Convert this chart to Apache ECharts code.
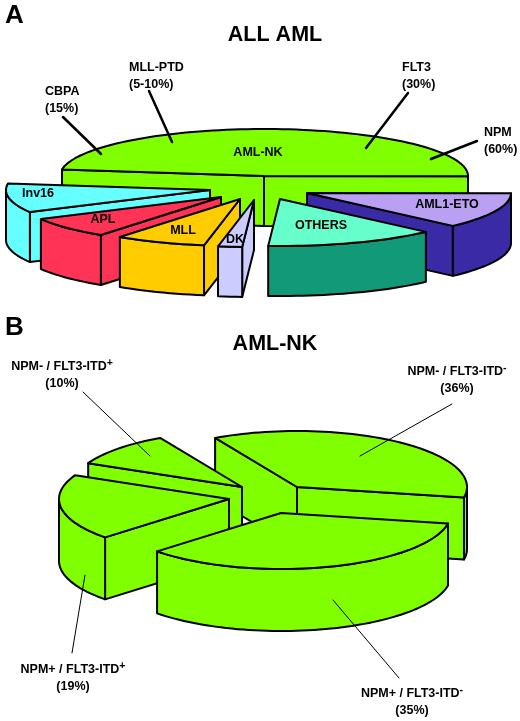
<!DOCTYPE html>
<html><head><meta charset="utf-8">
<style>html,body{margin:0;padding:0;background:#fff}#c{width:520px;height:721px}</style>
<script src="https://cdn.jsdelivr.net/npm/echarts@6/dist/echarts.min.js"></script>
</head><body><div id="c"></div>
<script>
// ---- data ----
const categoriesA = ['AML-NK','AML1-ETO','OTHERS','DK','MLL','APL','Inv16'];
const valuesA     = [47.9, 12.2, 13.6, 1.9, 7.2, 7.2, 10];
const categoriesB = ['NPM- / FLT3-ITD-','NPM+ / FLT3-ITD-','NPM+ / FLT3-ITD+','NPM- / FLT3-ITD+'];
const valuesB     = [36, 35, 19, 10];
const mutationNames  = ['CBPA','MLL-PTD','FLT3','NPM'];
const mutationShares = ['15%','5-10%','30%','60%'];

// ---- layout and style (separate from the values) ----
const pieA = {
  startDeg: 188, rx: 204, ry: 47, depth: 50, lineWidth: 2,
  apex: [[264,176],[307,193],[280,199],[254,200],[240,199],[221,197],[210,190]],
  top:  ['#80FF00','#B9A0F2','#66FFCC','#CCCCFF','#FFCC00','#FF3355','#66FFFF'],
  side: ['#80FF00','#3A2AA6','#129A78','#CCCCFF','#FFCC00','#FF3355','#66FFFF'],
  order:[0,1,2,6,5,4,3]
};
const pieB = {
  startDeg: 241.2, rx: 170, ry: 56, depth: 62, lineWidth: 2,
  apex: [[297,487],[281,513],[229,499],[242,487]],
  top:  ['#80FF00','#80FF00','#80FF00','#80FF00'],
  side: ['#80FF00','#80FF00','#80FF00','#80FF00'],
  order:[0,3,2,1]
};
const sliceLabelPosA = [[258,153],[447,205],[321,226],[235,240],[183,231],[103,220],[38,194]];
const mutationLabelPos = [[45,100],[129,76],[402,76],[484,141]];
const leadersA = [[63,117,101,154],[149,91,172,142],[408,93,366,148],[477,141,431,159]];
const labelPosB = [[457,380],[412,702],[73,678],[62,375]];
const leadersB = [[452,404,360,456],[399,678,333,600],[72,653,85,575],[83,392,150,456]];

function pieSeries(values, cfg){
  const total = values.reduce((a,b)=>a+b,0);
  const spans = []; let acc = cfg.startDeg;
  values.forEach(v=>{ const s = v/total*360; spans.push([acc, acc+s]); acc += s; });
  return {
    type:'custom', coordinateSystem:'cartesian2d', clip:false, silent:true, animation:false, z:2,
    data: cfg.order.map(i=>[cfg.apex[i][0], cfg.apex[i][1], values[i], i]),
    renderItem(params, api){
      const i = api.value(3);
      const c = api.coord([api.value(0), api.value(1)]);
      const [a,b] = spans[i];
      const rim = (t,d)=>{ const r=t*Math.PI/180;
        return [c[0]+cfg.rx*Math.cos(r), c[1]+cfg.ry*Math.sin(r)+(d||0)]; };
      const arc = (from,to,d)=>{ const p=[]; const n=Math.max(2,Math.ceil(Math.abs(to-from)/2));
        for(let k=0;k<=n;k++) p.push(rim(from+(to-from)*k/n,d)); return p; };
      const style = fill=>({fill, stroke:'#000', lineWidth:cfg.lineWidth, lineJoin:'round'});
      const poly = (points,fill)=>({type:'polygon', shape:{points}, style:style(fill), silent:true});
      const children = [];
      const radial = t=>{ const p=rim(t), q=rim(t,cfg.depth);
        children.push(poly([c,p,q,[c[0],c[1]+cfg.depth]], cfg.side[i])); };
      if (Math.cos(a*Math.PI/180) < 0) radial(a);
      if (Math.cos(b*Math.PI/180) > 0) radial(b);
      [[0,180],[360,540]].forEach(([lo,hi])=>{
        const s=Math.max(a,lo), e=Math.min(b,hi);
        if (e>s) children.push(poly(arc(s,e,0).concat(arc(e,s,cfg.depth)), cfg.side[i]));
      });
      children.push(poly([c].concat(arc(a,b,0)), cfg.top[i]));
      return {type:'group', children};
    }
  };
}

function lineSeries(lines, width){
  return {
    type:'custom', coordinateSystem:'cartesian2d', clip:false, silent:true, animation:false, z:3,
    data: lines,
    renderItem(params, api){
      const p=api.coord([api.value(0),api.value(1)]), q=api.coord([api.value(2),api.value(3)]);
      return {type:'line', shape:{x1:p[0],y1:p[1],x2:q[0],y2:q[1]},
              style:{stroke:'#000', lineWidth:width, lineCap:'round'}};
    }
  };
}

const richBase = {
  a:{fontFamily:'Liberation Sans', fontWeight:'bold', fontSize:12.5, lineHeight:17, color:'#000'},
  s:{fontFamily:'Liberation Sans', fontWeight:'bold', fontSize:10.5, lineHeight:17, verticalAlign:'top', color:'#000'}
};
function textSeries(items){
  return {
    type:'custom', coordinateSystem:'cartesian2d', clip:false, silent:true, animation:false, z:4,
    data: items.map((it,i)=>[it.pos[0],it.pos[1],i]),
    renderItem(params, api){
      const it = items[api.value(2)];
      const c = api.coord([api.value(0),api.value(1)]);
      return {type:'text', style:{x:c[0], y:c[1], text:it.text, rich:richBase,
        align:it.align, verticalAlign:'middle', fill:'#000',
        fontFamily:'Liberation Sans', fontWeight:'bold', fontSize:12.5}};
    }
  };
}

const supLabel = (name, share)=>{
  const sign = name.slice(-1), head = name.slice(0,-1);
  return '{a|'+head+'}{s|'+sign+'}\n{a|('+share+'%)}';
};
const textItems = [];
categoriesA.forEach((n,i)=>textItems.push({pos:sliceLabelPosA[i], text:'{a|'+n+'}', align:'center'}));
mutationNames.forEach((n,i)=>textItems.push({pos:mutationLabelPos[i],
  text:'{a|'+n+'}\n{a|('+mutationShares[i]+')}', align:'left'}));
categoriesB.forEach((n,i)=>textItems.push({pos:labelPosB[i], text:supLabel(n,valuesB[i]), align:'center'}));

const titleFont = (size)=>({fontFamily:'Liberation Sans', fontWeight:'bold', fontSize:size, color:'#000'});
const chart = echarts.init(document.getElementById('c'), null, {renderer:'canvas'});
chart.setOption({
  backgroundColor:'#fff', animation:false,
  title:[
    {text:'A', left:5, top:3, padding:0, textStyle:titleFont(26)},
    {text:'ALL AML', left:275, top:24, padding:0, textAlign:'center', textStyle:titleFont(21.5)},
    {text:'B', left:5, top:315, padding:0, textStyle:titleFont(26)},
    {text:'AML-NK', left:275, top:333, padding:0, textAlign:'center', textStyle:titleFont(21.5)}
  ],
  grid:{left:0, right:0, top:0, bottom:0},
  xAxis:{type:'value', min:0, max:520, show:false},
  yAxis:{type:'value', min:0, max:721, inverse:true, show:false},
  series:[
    pieSeries(valuesA, pieA),
    pieSeries(valuesB, pieB),
    lineSeries(leadersA, 2.5),
    lineSeries(leadersB, 1),
    textSeries(textItems)
  ]
});
</script></body></html>
